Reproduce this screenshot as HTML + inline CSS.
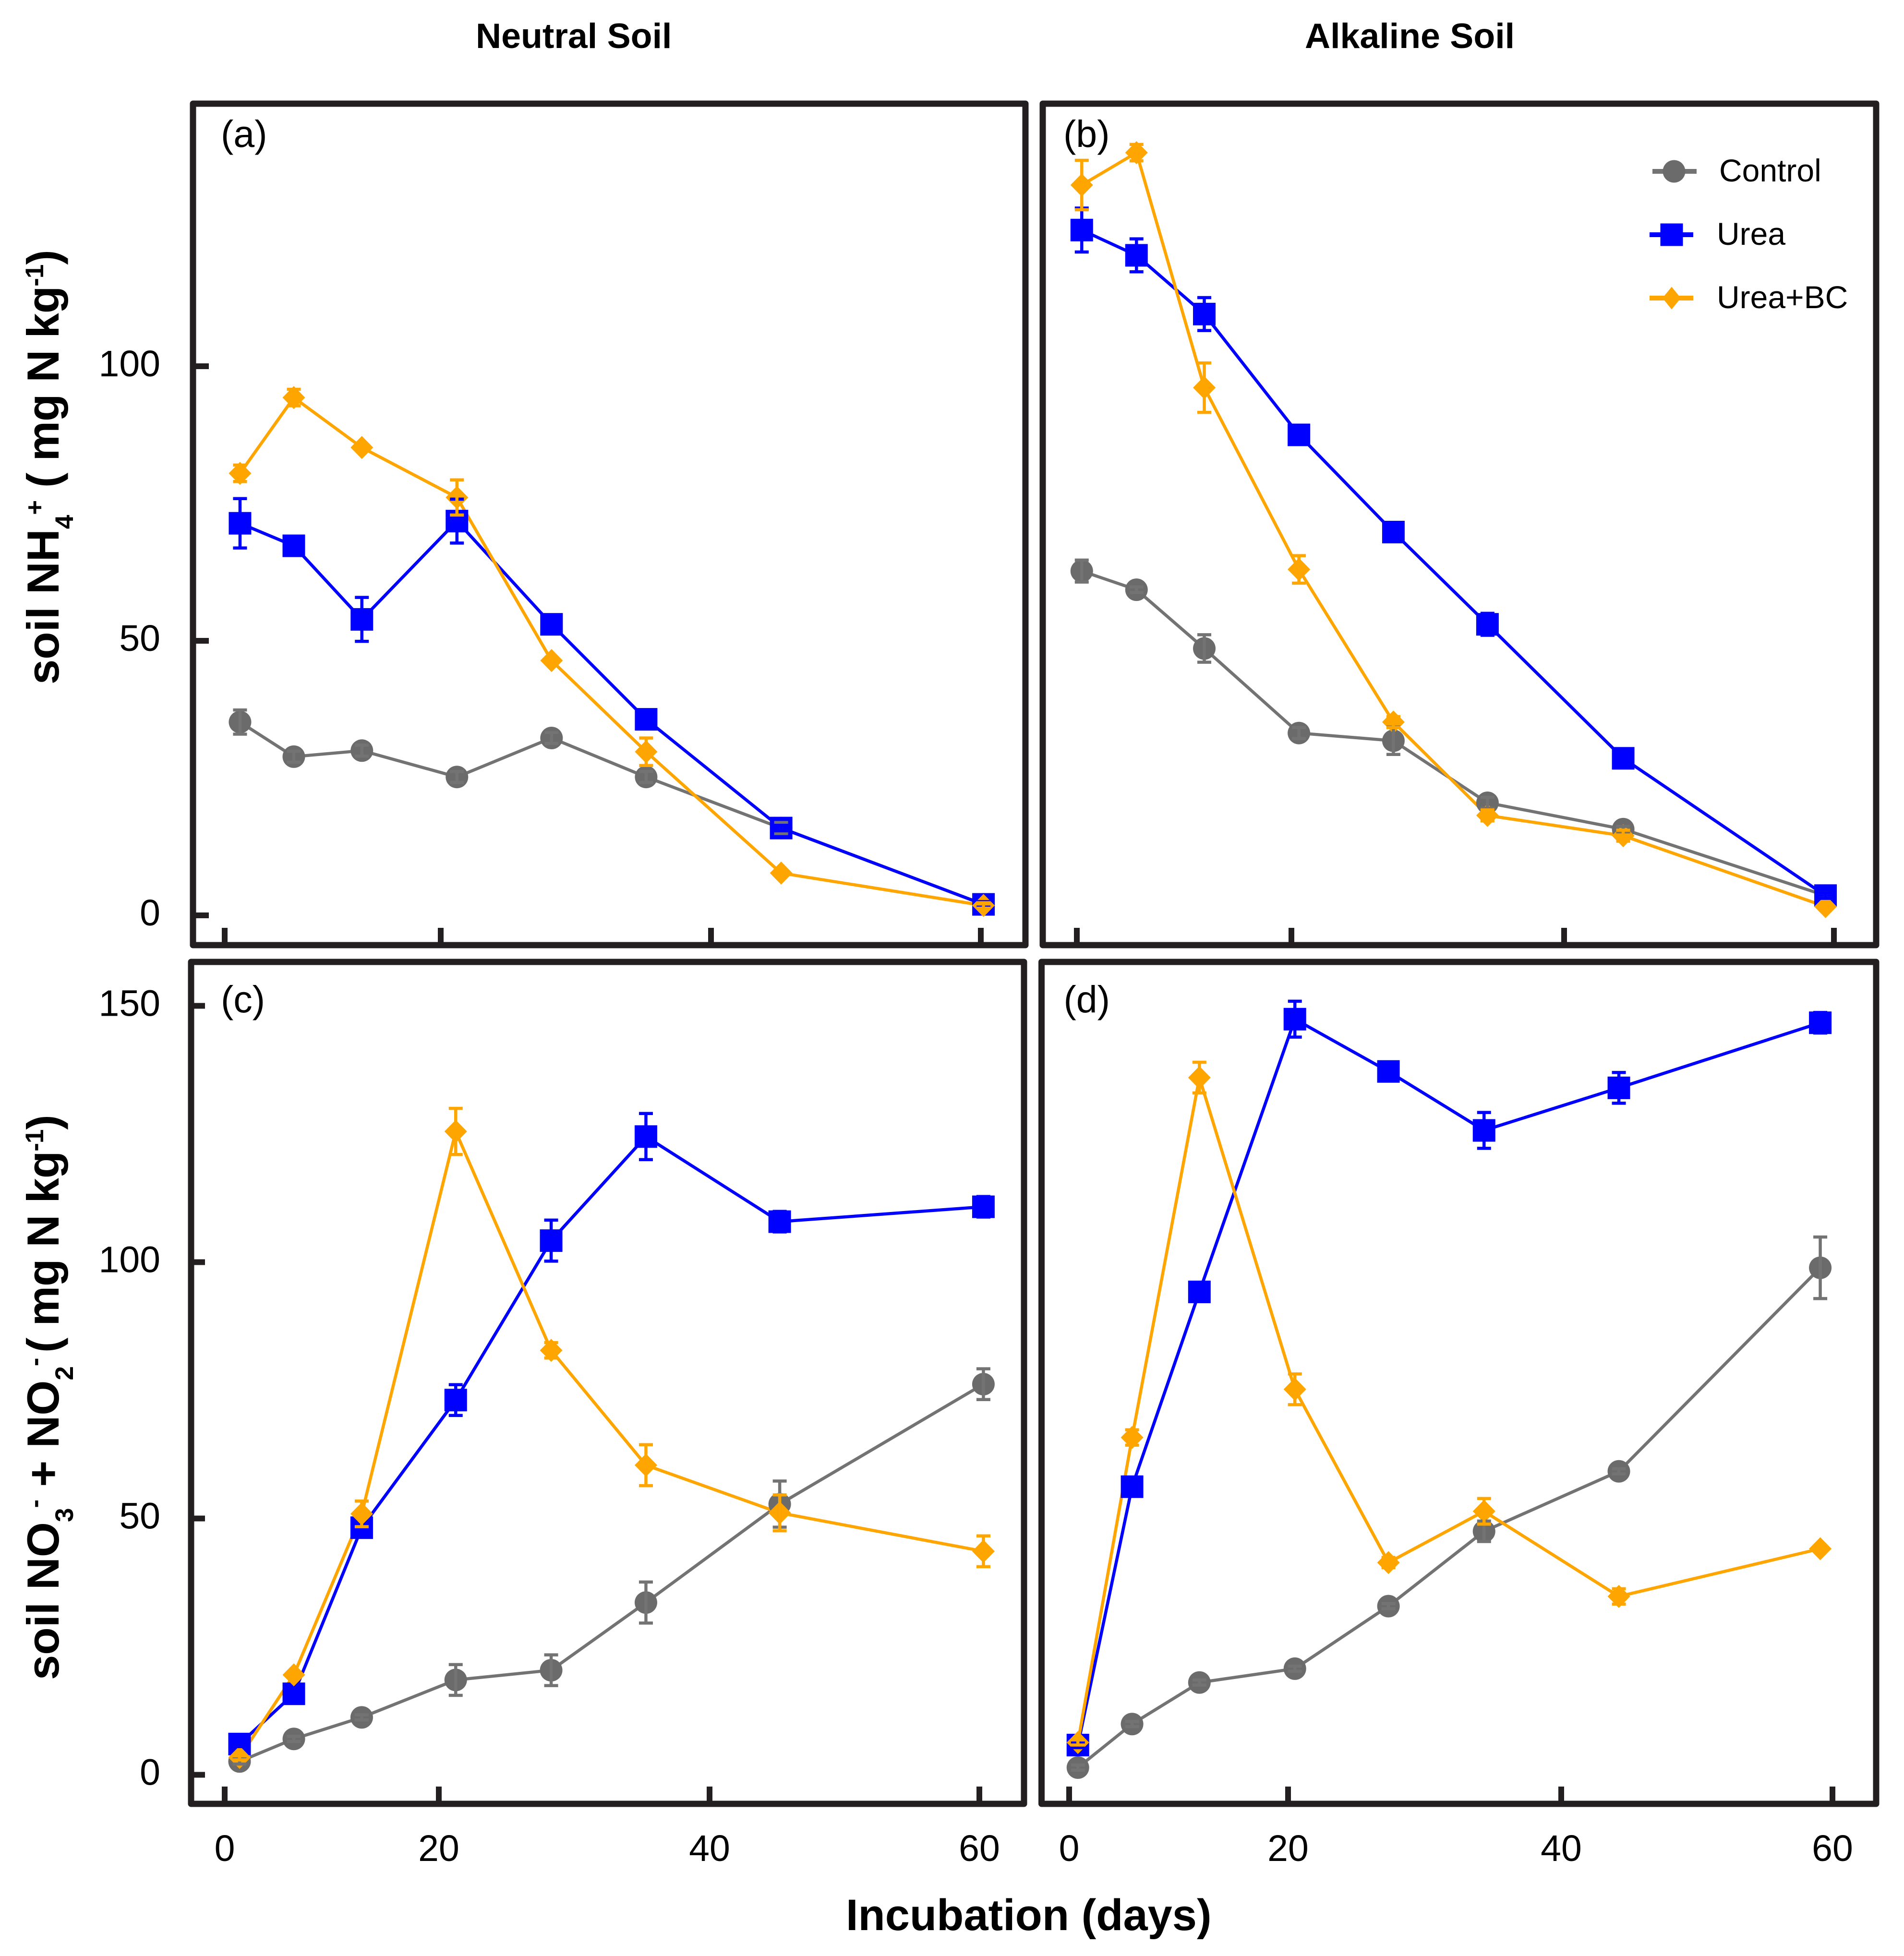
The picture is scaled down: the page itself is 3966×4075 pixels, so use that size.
<!DOCTYPE html>
<html>
<head>
<meta charset="utf-8">
<title>Soil mineral nitrogen during incubation</title>
<style>
html,body{margin:0;padding:0;background:#fff;}
svg{display:block;}
text{font-family:"Liberation Sans",sans-serif;fill:#000;}
.b{font-weight:700;}
</style>
</head>
<body>
<svg id="chart" xmlns="http://www.w3.org/2000/svg" width="3966" height="4075" viewBox="0 0 3966 4075">
<rect x="0" y="0" width="3966" height="4075" fill="#fff"/>
<text class="b" x="991" y="100" font-size="73.5">Neutral Soil</text>
<text class="b" x="2718" y="100" font-size="73.5">Alkaline Soil</text>
<text class="b" transform="translate(122,1426) rotate(-90)" font-size="94">soil NH<tspan font-size="53" dy="30">4</tspan><tspan font-size="53" dy="-62">+</tspan><tspan dy="32" x="410" letter-spacing="-1">( mg N kg</tspan><tspan font-size="53" dy="-32" letter-spacing="-1">-1</tspan><tspan dy="32">)</tspan></text>
<text class="b" transform="translate(122,3500) rotate(-90)" font-size="94">soil NO<tspan font-size="53" dy="30">3</tspan><tspan font-size="53" dy="-62">-</tspan><tspan dy="32"> + NO</tspan><tspan font-size="53" dy="30">2</tspan><tspan font-size="53" dy="-62">-</tspan><tspan dy="32" x="682" letter-spacing="-1">( mg N kg</tspan><tspan font-size="53" dy="-32" letter-spacing="-1">-1</tspan><tspan dy="32">)</tspan></text>
<text class="b" x="1762" y="4021" font-size="92">Incubation (days)</text>
<g id="panels"></g>
<g>
  <g>
    <line x1="3442" x2="3534" y1="357" y2="357" stroke="#737373" stroke-width="10"/>
    <circle cx="3487" cy="357" r="23.5" fill="#6b6b6b"/>
    <text x="3581" y="378" font-size="66">Control</text>
  </g>
  <g>
    <line x1="3436" x2="3527" y1="489" y2="489" stroke="#0000ff" stroke-width="10"/>
    <rect x="3458.5" y="465.5" width="47" height="47" fill="#0000ff"/>
    <text x="3576" y="510" font-size="66">Urea</text>
  </g>
  <g>
    <line x1="3436" x2="3527" y1="621" y2="621" stroke="#ffa500" stroke-width="10"/>
    <polygon points="3482,597.5 3501,621 3482,644.5 3463,621" fill="#ffa500"/>
    <text x="3576" y="642" font-size="66">Urea+BC</text>
  </g>
</g>
</svg>
<script>
// Shared axis values
const xTickValues = [0, 20, 40, 60];
const xTickLabels = ['0', '20', '40', '60'];
const yTicksTop = [0, 50, 100];
const yTickLabelsTop = ['0', '50', '100'];
const yTicksBottom = [0, 50, 100, 150];
const yTickLabelsBottom = ['0', '50', '100', '150'];

// Panel (a) Neutral soil, NH4+
const daysA = [1.42, 6.4, 12.7, 21.2, 28.2, 35.2, 45.2, 60.2];
const controlA = [35.2, 28.9, 30, 25.2, 32.3, 25.2, 15.9, 2];
const controlAErr = [2.2, 1, 1, 1, 1, 1, 1, 0.5];
const ureaA = [71.4, 67.3, 53.9, 71.8, 53, 35.7, 15.9, 2];
const ureaAErr = [4.5, 0.5, 4, 4, 0.5, 0.5, 0.5, 0.5];
const ureaBcA = [80.5, 94.3, 85.2, 76.1, 46.4, 29.8, 7.7, 1.8];
const ureaBcAErr = [1.5, 1.5, 0.5, 3.2, 0.5, 2.5, 0.5, 0.5];

// Panel (b) Alkaline soil, NH4+
const daysB = [0.46, 5.56, 11.88, 20.55, 27.48, 34.38, 44.38, 59.38];
const controlB = [62.7, 59.3, 48.6, 33.2, 31.8, 20.5, 15.7, 3.6];
const controlBErr = [2, 0.5, 2.5, 1, 2.5, 1, 0.5, 0.5];
const ureaB = [124.8, 120.2, 109.5, 87.5, 69.8, 53, 28.6, 3.6];
const ureaBErr = [4, 3, 3, 1, 1, 2, 1, 0.5];
const ureaBcB = [133, 138.9, 96.1, 63, 35.2, 18.2, 14.5, 1.6];
const ureaBcBErr = [4.5, 1.5, 4.5, 2.5, 1, 1, 1, 0.5];

// Panel (c) Neutral soil, NO3- + NO2-
const daysC = [1.39, 6.46, 12.8, 21.25, 28.3, 35.3, 45.2, 60.3];
const controlC = [2.6, 7, 11.2, 18.5, 20.4, 33.6, 52.8, 76.2];
const controlCErr = [0.5, 0.5, 0.5, 3, 3, 4, 4.5, 3];
const ureaC = [6, 15.8, 48.2, 73.1, 104.2, 124.5, 107.9, 110.8];
const ureaCErr = [0.5, 0.5, 0.5, 3, 4, 4.5, 2, 2];
const ureaBcC = [3.4, 19.5, 50.9, 125.5, 82.8, 60.4, 51.1, 43.6];
const ureaBcCErr = [0.5, 0.5, 2.5, 4.5, 1.5, 4, 3.5, 3];

// Panel (d) Alkaline soil, NO3- + NO2-
const daysD = [0.8, 5.75, 11.9, 20.5, 27.35, 34.35, 44.25, 59.1];
const controlD = [1.4, 9.9, 18, 20.7, 32.9, 47.5, 59.2, 98.9];
const controlDErr = [0.5, 0.5, 0.5, 0.5, 0.5, 2, 0.5, 6];
const ureaD = [5.8, 56.2, 94.2, 147.4, 137.2, 125.7, 134, 146.7];
const ureaDErr = [0.5, 1, 0.5, 3.5, 1, 3.5, 3, 2];
const ureaBcD = [6.3, 65.8, 136, 75.2, 41.4, 51.4, 34.8, 44.1];
const ureaBcDErr = [0.5, 1.5, 3, 3, 1, 2.5, 1.5, 0.5];

const SVGNS = 'http://www.w3.org/2000/svg';
const FRAME = '#231f20';

function make(parent, tag, attrs, text) {
  const el = document.createElementNS(SVGNS, tag);
  for (const k in attrs) el.setAttribute(k, attrs[k]);
  if (text !== undefined) el.textContent = text;
  parent.appendChild(el);
  return el;
}

// Piecewise-linear x axis: the source figure's tick spacing is uneven.
function xScale(knots) {
  return function (v) {
    let i = 0;
    while (i < xTickValues.length - 2 && v > xTickValues[i + 1]) i++;
    const d0 = xTickValues[i], d1 = xTickValues[i + 1];
    return knots[i] + (v - d0) / (d1 - d0) * (knots[i + 1] - knots[i]);
  };
}
function yScale(zeroPx, pxPerUnit) {
  return function (v) { return zeroPx - v * pxPerUnit; };
}

function drawPanel(cfg) {
  const x = xScale(cfg.knots);
  const y = yScale(cfg.zero, cfg.unit);
  const g = make(document.getElementById('panels'), 'g', {});
  
  

  // frame
  const frame = make(g, 'rect', {
    x: cfg.l, y: cfg.t, width: cfg.r - cfg.l, height: cfg.b - cfg.t,
    fill: 'none', stroke: FRAME, 'stroke-width': 13, 'stroke-linejoin': 'round'
  });
  
  

  // panel letter
  const letter = make(g, 'text', { x: cfg.l + cfg.letterDx, y: cfg.t + cfg.letterDy, 'font-size': 79 }, '(' + cfg.id + ')');
  
  

  // x ticks
  xTickValues.forEach(function (v, i) {
    const tick = make(g, 'line', {
      x1: x(v), x2: x(v), y1: cfg.b, y2: cfg.b - 36, stroke: FRAME, 'stroke-width': 12
    });
    
    
    if (cfg.xLabels) {
      const lab = make(g, 'text', { x: x(v), y: cfg.b + 119, 'font-size': 77, 'text-anchor': 'middle' }, xTickLabels[i]);
      
      
    }
  });

  // y ticks
  if (cfg.yTicks) {
    cfg.yTicks.forEach(function (v, i) {
      const tick = make(g, 'line', {
        x1: cfg.l, x2: cfg.l + cfg.yTickLen, y1: y(v), y2: y(v), stroke: FRAME, 'stroke-width': 12
      });
      
      
      const lab = make(g, 'text', { x: 334, y: y(v) + 21, 'font-size': 77, 'text-anchor': 'end' }, cfg.yLabels[i]);
      
      
    });
  }

  const series = [
    { key: 'control', vals: cfg.control, errs: cfg.controlErr, line: '#737373', fill: '#6b6b6b' },
    { key: 'urea', vals: cfg.urea, errs: cfg.ureaErr, line: '#0000ff', fill: '#0000ff' },
    { key: 'urea-bc', vals: cfg.ureaBc, errs: cfg.ureaBcErr, line: '#ffa500', fill: '#ffa500' }
  ];

  // lines
  series.forEach(function (s) {
    const pts = s.vals.map(function (v, i) { return x(cfg.days[i]) + ',' + y(v); }).join(' ');
    const pl = make(g, 'polyline', { points: pts, fill: 'none', stroke: s.line, 'stroke-width': 6.5, 'stroke-linejoin': 'round' });
    
    
  });

  // markers
  series.forEach(function (s) {
    s.vals.forEach(function (v, i) {
      const cx = x(cfg.days[i]), cy = y(v);
      let m;
      if (s.key === 'control') {
        m = make(g, 'circle', { cx: cx, cy: cy, r: 23.5, fill: s.fill });
      } else if (s.key === 'urea') {
        m = make(g, 'rect', { x: cx - 23.5, y: cy - 23.5, width: 47, height: 47, fill: s.fill });
      } else {
        m = make(g, 'polygon', {
          points: cx + ',' + (cy - 24) + ' ' + (cx + 23.5) + ',' + cy + ' ' + cx + ',' + (cy + 24) + ' ' + (cx - 23.5) + ',' + cy,
          fill: s.fill
        });
      }
      
      
    });
  });

  // error bars sit above the markers
  series.forEach(function (s) {
    s.vals.forEach(function (v, i) {
      const cx = x(cfg.days[i]);
      const top = y(v + s.errs[i]), bot = y(v - s.errs[i]);
      const d = 'M' + cx + ' ' + top + 'V' + bot +
        'M' + (cx - 14.5) + ' ' + top + 'H' + (cx + 14.5) +
        'M' + (cx - 14.5) + ' ' + bot + 'H' + (cx + 14.5);
      const e = make(g, 'path', { d: d, fill: 'none', stroke: s.line, 'stroke-width': 6.5 });
      
      
    });
  });
}

drawPanel({
  id: 'a', l: 402, r: 2136, t: 216, b: 1969, knots: [468, 918, 1481, 2043],
  zero: 1907, unit: 11.44, letterDx: 58, letterDy: 90, xLabels: false, yTicks: yTicksTop, yLabels: yTickLabelsTop, yTickLen: 33,
  days: daysA, control: controlA, controlErr: controlAErr, urea: ureaA, ureaErr: ureaAErr, ureaBc: ureaBcA, ureaBcErr: ureaBcAErr
});
drawPanel({
  id: 'b', l: 2172, r: 3908, t: 216, b: 1969, knots: [2243, 2690, 3258, 3820],
  zero: 1907, unit: 11.44, letterDx: 43, letterDy: 90, xLabels: false,
  days: daysB, control: controlB, controlErr: controlBErr, urea: ureaB, ureaErr: ureaBErr, ureaBc: ureaBcB, ureaBcErr: ureaBcBErr
});
drawPanel({
  id: 'c', l: 398, r: 2133, t: 2004, b: 3758, knots: [468, 914, 1478, 2040],
  zero: 3697.5, unit: 10.68, letterDx: 62, letterDy: 105, xLabels: true, yTicks: yTicksBottom, yLabels: yTickLabelsBottom, yTickLen: 29,
  days: daysC, control: controlC, controlErr: controlCErr, urea: ureaC, ureaErr: ureaCErr, ureaBc: ureaBcC, ureaBcErr: ureaBcCErr
});
drawPanel({
  id: 'd', l: 2169.5, r: 3908, t: 2004, b: 3758, knots: [2227, 2683, 3252, 3817],
  zero: 3697.5, unit: 10.68, letterDx: 46, letterDy: 105, xLabels: true,
  days: daysD, control: controlD, controlErr: controlDErr, urea: ureaD, ureaErr: ureaDErr, ureaBc: ureaBcD, ureaBcErr: ureaBcDErr
});
</script>
</body>
</html>
